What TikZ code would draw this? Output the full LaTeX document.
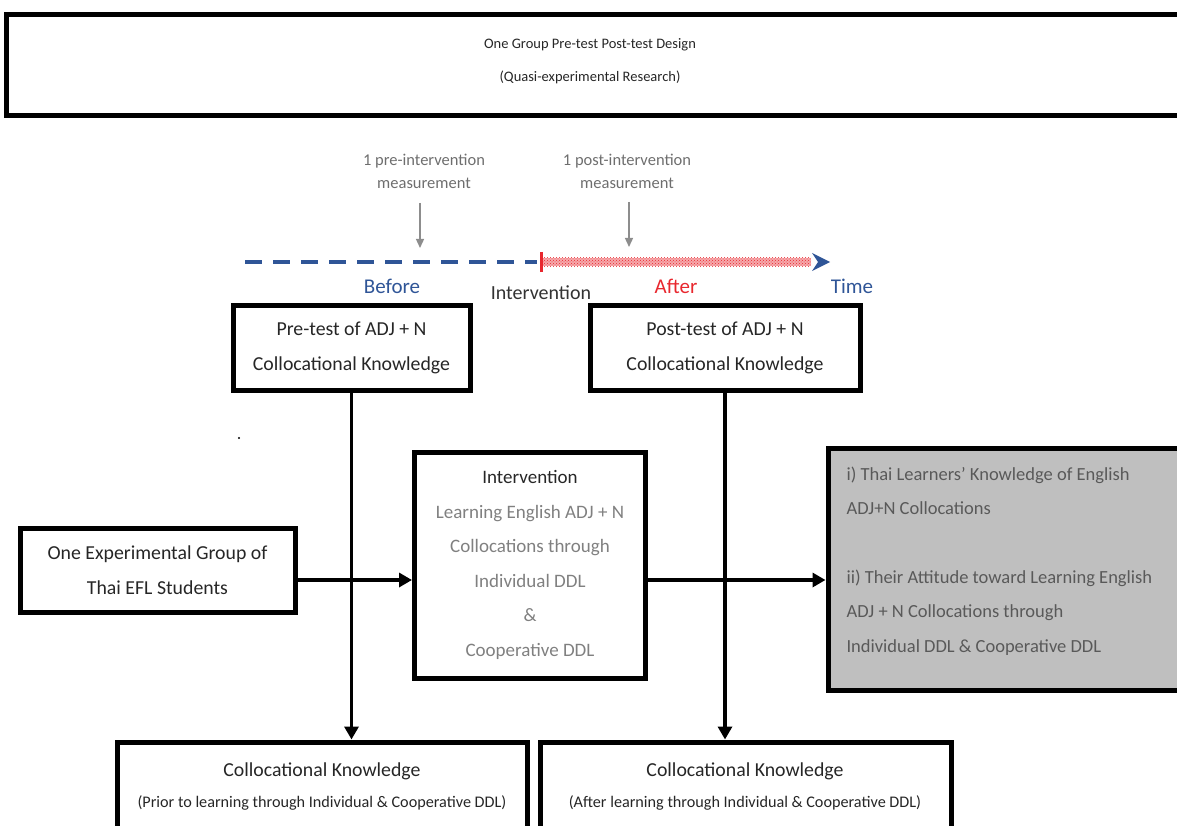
\documentclass[tikz,border=0pt]{standalone}
\usepackage{fontspec}
\setmainfont{Carlito}
\usetikzlibrary{arrows.meta,patterns}
\definecolor{tblue}{HTML}{2F5597}
\definecolor{tred}{HTML}{E8272E}
\definecolor{tpink}{HTML}{F6A9AC}
\definecolor{boxgray}{HTML}{BFBFBF}
\definecolor{txtgray}{HTML}{808080}
\definecolor{dgray}{HTML}{595959}
\definecolor{mgray}{HTML}{6E6E6E}
\begin{document}
\begin{tikzpicture}[x=1pt,y=-1pt,
  bx/.style={draw=black, line width=5pt, inner sep=0pt},
  btxt/.style={font=\fontsize{19.8}{35}\selectfont, align=center, text=black!85},
  arr/.style={line width=3.5pt, -{Triangle[length=13pt,width=14pt]}},
  marr/.style={line width=1.3pt, draw=txtgray!90, -{Triangle[length=9pt,width=8pt]}},
  tlab/.style={font=\fontsize{16.5}{23}\selectfont, align=center},
  tbig/.style={font=\fontsize{21}{24}\selectfont}]
\useasboundingbox (0,0) rectangle (1177,826);
\clip (0,0) rectangle (1177,826);

% title
\node[bx, minimum width=1200, minimum height=101] (title) at (606,65.5) {};
\node[font=\fontsize{14.5}{33}\selectfont, align=center, text=black!85] (titletext) at (590,61) {One Group Pre-test Post-test Design\\(Quasi-experimental Research)};

% timeline
\coordinate (tls) at (245,262);
\coordinate (tlm) at (541,262);
\coordinate (tle) at (811,262);
\draw[tblue, line width=4pt, dash pattern=on 17pt off 11pt] (tls) -- ([xshift=-4pt]tlm);
\fill[tpink] ([yshift=4pt]tlm) rectangle ([yshift=-4pt]tle);
\fill[pattern=crosshatch dots, pattern color=tred] ([yshift=4pt]tlm) rectangle ([yshift=-4pt]tle);
\draw[tred, line width=3pt] ([yshift=10pt]tlm) -- ([yshift=-10pt]tlm);
\fill[tblue] (812,253) -- (830,262) -- (812,271) -- (818,262) -- cycle;

\node[tlab, text=mgray] (premeas) at (424,171) {1 pre-intervention\\measurement};
\node[tlab, text=mgray] (postmeas) at (627,171) {1 post-intervention\\measurement};
\coordinate (pra) at (420,203);
\coordinate (prb) at (420,248);
\coordinate (poa) at (629,202);
\coordinate (pob) at (629,247);
\draw[marr] (pra) -- (prb);
\draw[marr] (poa) -- (pob);

\node[tbig, text=tblue] (before) at (392,286) {Before};
\node[font=\fontsize{20}{24}\selectfont, text=black!80] (intlab) at (541,293) {Intervention};
\node[tbig, text=tred] (after) at (676,286) {After};
\node[tbig, text=tblue] (time) at (852,286) {Time};

% boxes
\node[bx, minimum width=237, minimum height=85, btxt] (pre) at (351.5,347.5) {Pre-test of ADJ + N\\Collocational Knowledge};
\node[bx, minimum width=270, minimum height=85, btxt] (post) at (725,347.5) {Post-test of ADJ + N\\Collocational Knowledge};
\node[bx, minimum width=275, minimum height=84, btxt] (group) at (157.5,570) {One Experimental Group of\\Thai EFL Students};
\node[bx, minimum width=231, minimum height=226, font=\fontsize{19}{34.6}\selectfont, align=center, text=txtgray] (interv) at (530,565) {\textcolor{black!85}{Intervention}\\Learning English ADJ + N\\Collocations through\\Individual DDL\\\&\\Cooperative DDL};
\node[bx, fill=boxgray, minimum width=370, minimum height=242] (res) at (1013,569) {};
\node[anchor=west, align=left, text=dgray, font=\fontsize{18.5}{34.4}\selectfont] (restext) at (843,561) {i) Thai Learners’ Knowledge of English\\ADJ+N Collocations\\[34.4pt]ii) Their Attitude toward Learning English\\ADJ + N Collocations through\\Individual DDL \& Cooperative DDL};

\node[bx, minimum width=410, minimum height=110] (botL) at (322,797) {};
\node[bx, minimum width=411, minimum height=110] (botR) at (745.5,797) {};
\node[font=\fontsize{19.8}{22}\selectfont, text=black!85] (botLa) at (322,771) {Collocational Knowledge};
\node[font=\fontsize{16.2}{18}\selectfont, text=black!85] (botLb) at (322,803) {(Prior to learning through Individual \& Cooperative DDL)};
\node[font=\fontsize{19.8}{22}\selectfont, text=black!85] (botRa) at (745,771) {Collocational Knowledge};
\node[font=\fontsize{16.2}{18}\selectfont, text=black!85] (botRb) at (745,803) {(After learning through Individual \& Cooperative DDL)};

\fill (239,438) circle (1.2pt);

% connectors
\coordinate (ya) at (0,580);
\draw[arr] (pre.south) -- (pre.south |- botL.north);
\draw[arr] (post.south) -- (post.south |- botR.north);
\draw[arr] (group.east |- ya) -- (interv.west |- ya);
\draw[arr] (interv.east |- ya) -- (res.west |- ya);
\end{tikzpicture}
\end{document}
